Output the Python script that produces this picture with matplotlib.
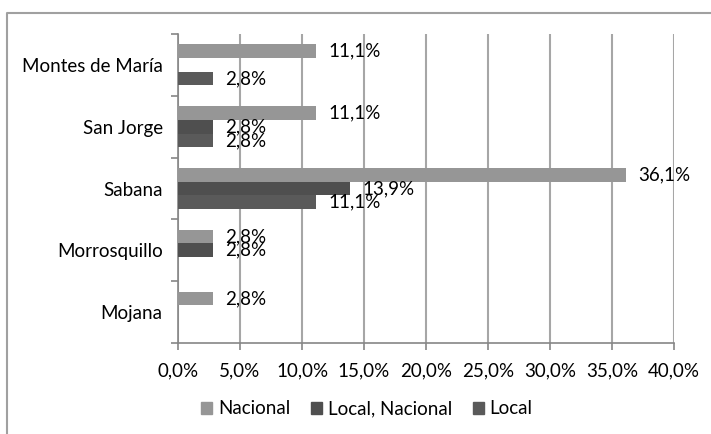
import matplotlib.pyplot as plt
from matplotlib.lines import Line2D
from matplotlib.patches import Patch
import numpy as np

plt.rcParams['font.family'] = ['Lato', 'DejaVu Sans']

categories = ['Mojana', 'Morrosquillo', 'Sabana', 'San Jorge', 'Montes de María']
nacional = [2.8, 2.8, 36.1, 11.1, 11.1]
local_nacional = [0, 2.8, 13.9, 2.8, 0]
local = [0, 0, 11.1, 2.8, 2.8]
series_names = ['Nacional', 'Local, Nacional', 'Local']
colors = ['#969696', '#4f4f4f', '#5a5a5a']

fs = 13.5

fig = plt.figure(figsize=(7.11, 4.34), dpi=100)
ax = fig.add_axes([178 / 711, 1 - 343 / 434, (674 - 178) / 711, (343 - 34) / 434])

# outer chart border (top and left only visible)
fig.add_artist(Line2D([7 / 711, 7 / 711, 1.0], [0.0, 1 - 13 / 434, 1 - 13 / 434],
                      transform=fig.transFigure, color='#a0a0a0', lw=1.5))

y = np.arange(len(categories)) + 0.5
h = 0.222
offsets = [h, 0, -h]
for vals, off, col, name in zip([nacional, local_nacional, local], offsets, colors, series_names):
    bars = ax.barh(y + off, vals, height=h, color=col, label=name, zorder=3)
    for b, v in zip(bars, vals):
        if v > 0:
            ax.annotate(f'{v:.1f}%'.replace('.', ','), (v, b.get_y() + h / 2),
                        xytext=(9, 0), textcoords='offset points',
                        va='center', ha='left', fontsize=fs, color='black', zorder=4)

ax.set_xlim(0, 40)
ax.set_ylim(0, 5)
ax.set_xticks(np.arange(0, 41, 5))
ax.set_xticklabels([f'{v:.1f}%'.replace('.', ',') for v in np.arange(0, 41, 5)], fontsize=fs)
ax.set_yticks(np.arange(0, 6))
ax.set_yticklabels([])
ax.set_yticks(y, minor=True)
ax.set_yticklabels(categories, minor=True, fontsize=fs)
ax.tick_params(axis='y', which='minor', length=0, pad=11)
ax.tick_params(axis='y', which='major', length=5, color='#868686', width=1.2)
ax.tick_params(axis='x', length=5, color='#868686', width=1.2, pad=9)

ax.grid(axis='x', color='#a6a6a6', lw=1.5, zorder=0)
for s in ['top', 'right']:
    ax.spines[s].set_visible(False)
for s in ['left', 'bottom']:
    ax.spines[s].set_color('#868686')
    ax.spines[s].set_linewidth(1.2)

handles = [Patch(color=c) for c in colors]
fig.legend(handles, series_names, loc='center', bbox_to_anchor=(0.516, 1 - 409 / 434),
           ncol=3, frameon=False, fontsize=fs, handlelength=0.6, handleheight=0.6,
           handletextpad=0.3, columnspacing=1.1)

fig.savefig('out.png', dpi=100)
